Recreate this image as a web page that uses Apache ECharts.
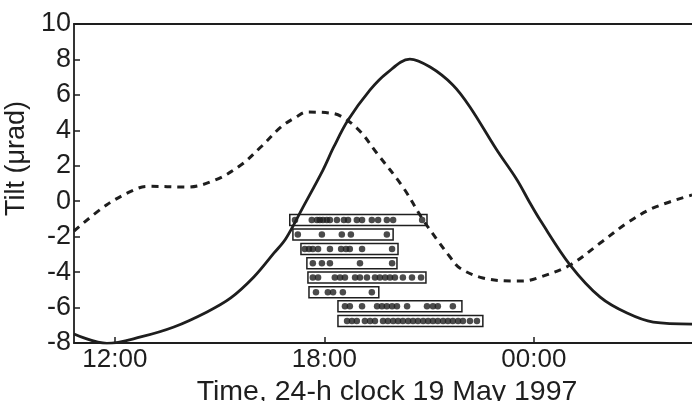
<!DOCTYPE html>
<html>
<head>
<meta charset="utf-8">
<script src="https://cdn.jsdelivr.net/npm/echarts@6/dist/echarts.min.js"></script>
<style>
html,body{margin:0;padding:0;background:#fff;}
#chart{width:692px;height:401px;}
</style>
</head>
<body>
<div id="chart"></div>
<script>
// Time in hours from 00:00 on 19 May 1997 (24 = midnight)
var solidTime = [10.83, 11.77, 12.74, 13.69, 14.64, 15.32, 15.98, 16.56, 16.9, 17.39, 17.96, 18.27, 18.68, 19.31, 19.79, 20.45, 21.03, 21.68, 22.17, 22.94, 23.52, 23.89, 24.18, 25.04, 25.9, 26.67, 27.42, 28.53];
var solidTilt = [-7.49, -8.02, -7.66, -7.10, -6.25, -5.46, -4.28, -2.92, -2.1, -0.33, 1.76, 3.06, 4.58, 6.28, 7.23, 8.02, 7.57, 6.56, 5.32, 2.89, 1.2, -0.1, -1.06, -3.60, -5.41, -6.31, -6.82, -6.93];

var dashTime = [10.83, 11.77, 12.54, 12.92, 14.06, 14.88, 15.61, 16.18, 16.76, 17.19, 17.5, 18.25, 18.93, 19.5, 20.25, 20.83, 21.3, 21.6, 21.88, 22.54, 23.4, 23.69, 24.18, 25.04, 25.9, 26.67, 27.42, 28.53];
var dashTilt = [-1.68, -0.2, 0.63, 0.84, 0.80, 1.2, 2.04, 3.06, 4.19, 4.75, 5.03, 4.95, 4.13, 2.72, 0.8, -1.06, -2.36, -3.15, -3.77, -4.33, -4.5, -4.5, -4.28, -3.60, -2.36, -1.23, -0.38, 0.35];

// Event rows (boxes with dots)
var rowTilt = [-1.06, -1.88, -2.70, -3.50, -4.30, -5.14, -5.93, -6.76];
var rowStart = [17.01, 17.10, 17.33, 17.50, 17.53, 17.56, 18.39, 18.39];
var rowEnd = [20.94, 19.97, 20.11, 20.08, 20.91, 19.56, 21.94, 22.54];
var row1Dots = [17.16, 17.64, 17.79, 17.87, 17.96, 18.07, 18.16, 18.36, 18.56, 18.68, 18.93, 19.08, 19.36, 19.54, 19.79, 19.97, 20.80];
var row2Dots = [17.24, 17.93, 18.50, 18.76, 19.79];
var row3Dots = [17.44, 17.56, 17.67, 17.82, 18.16, 18.48, 18.62, 18.73, 19.08, 19.94];
var row4Dots = [17.67, 17.93, 18.16, 19.02, 19.94];
var row5Dots = [17.67, 17.82, 18.30, 18.45, 18.59, 18.88, 19.02, 19.22, 19.45, 19.59, 19.74, 19.88, 20.02, 20.25, 20.51, 20.77];
var row6Dots = [17.76, 18.10, 18.25, 18.53, 19.36];
var row7Dots = [18.59, 18.73, 19.08, 19.51, 19.65, 19.79, 19.94, 20.08, 20.37, 20.94, 21.11, 21.25, 21.68];
var row8Dots = [18.65, 18.79, 18.93, 19.16, 19.31, 19.45, 19.68, 19.82, 19.97, 20.11, 20.25, 20.40, 20.54, 20.68, 20.83, 20.97, 21.11, 21.25, 21.40, 21.54, 21.68, 21.83, 21.97, 22.17, 22.37];

var xTickValues = [12, 18, 24];
var xTickLabels = ['12:00', '18:00', '00:00'];
var yTickLabels = ['10', '8', '6', '4', '2', '0', '-2', '-4', '-6', '-8'];

var allRowDots = [row1Dots, row2Dots, row3Dots, row4Dots, row5Dots, row6Dots, row7Dots, row8Dots];

function zip(a, b) { return a.map(function (v, i) { return [v, b[i]]; }); }

var dotData = [];
allRowDots.forEach(function (row, r) {
  row.forEach(function (t) { dotData.push([t, rowTilt[r]]); });
});
var boxData = rowTilt.map(function (y, i) { return [rowStart[i], rowEnd[i], y]; });

var FONT = '"Liberation Sans", Arial, Helvetica, sans-serif';
var INK = '#1e1e1e';

var chart = echarts.init(document.getElementById('chart'), null, { renderer: 'canvas' });
chart.setOption({
  animation: false,
  backgroundColor: '#fff',
  grid: { left: 74, top: 24, right: 0, bottom: 58, containLabel: false, outerBoundsMode: 'none' },
  xAxis: [{
    type: 'value', min: 10.83, max: 28.53, position: 'bottom',
    name: 'Time, 24-h clock 19 May 1997',
    nameLocation: 'middle', nameGap: 29,
    nameTextStyle: { fontFamily: FONT, fontSize: 28.5, color: INK, padding: [0, 0, 0, 8] },
    axisLine: { show: true, onZero: false, lineStyle: { color: INK, width: 1.8 } },
    axisTick: { show: true, inside: true, length: 6, lineStyle: { color: INK, width: 1.5 }, customValues: xTickValues },
    axisLabel: {
      show: true, margin: 4, fontFamily: FONT, fontSize: 26, color: INK,
      customValues: xTickValues,
      formatter: function (v) { var i = xTickValues.indexOf(v); return i >= 0 ? xTickLabels[i] : ''; }
    },
    splitLine: { show: false }
  }, {
    type: 'value', position: 'top', min: 10.83, max: 28.53,
    axisLine: { show: true, onZero: false, lineStyle: { color: INK, width: 1.8 } },
    axisTick: { show: false }, axisLabel: { show: false }, splitLine: { show: false }
  }],
  yAxis: {
    type: 'value', min: -8, max: 10, interval: 2,
    name: 'Tilt (\u03bcrad)',
    nameLocation: 'middle', nameRotate: 90, nameGap: 34,
    nameTextStyle: { fontFamily: FONT, fontSize: 27, color: INK, padding: [0, 0, 0, 50] },
    axisLine: { show: true, onZero: false, lineStyle: { color: INK, width: 1.8 } },
    axisTick: { show: true, inside: true, length: 6, lineStyle: { color: INK, width: 1.5 } },
    axisLabel: {
      margin: 3, fontFamily: FONT, fontSize: 27, color: INK,
      showMinLabel: true, showMaxLabel: true,
      formatter: function (v) { var i = Math.round((10 - v) / 2); return yTickLabels[i]; }
    },
    splitLine: { show: false }
  },
  series: [{
    type: 'line', data: zip(solidTime, solidTilt), smooth: 0.35, symbol: 'none',
    lineStyle: { color: INK, width: 2.8 }, z: 3
  }, {
    type: 'line', data: zip(dashTime, dashTilt), smooth: 0.35, symbol: 'none',
    lineStyle: { color: INK, width: 3, type: [7, 6] }, z: 3
  }, {
    type: 'custom', data: boxData, z: 4,
    renderItem: function (params, api) {
      var a = api.coord([api.value(0), api.value(2)]);
      var b = api.coord([api.value(1), api.value(2)]);
      return {
        type: 'rect',
        shape: { x: a[0], y: a[1] - 5.5, width: b[0] - a[0], height: 11 },
        style: { fill: null, stroke: INK, lineWidth: 1.5 }
      };
    }
  }, {
    type: 'scatter', data: dotData, symbol: 'circle', symbolSize: 6.5,
    itemStyle: { color: INK }, z: 5
  }]
});
</script>
</body>
</html>
